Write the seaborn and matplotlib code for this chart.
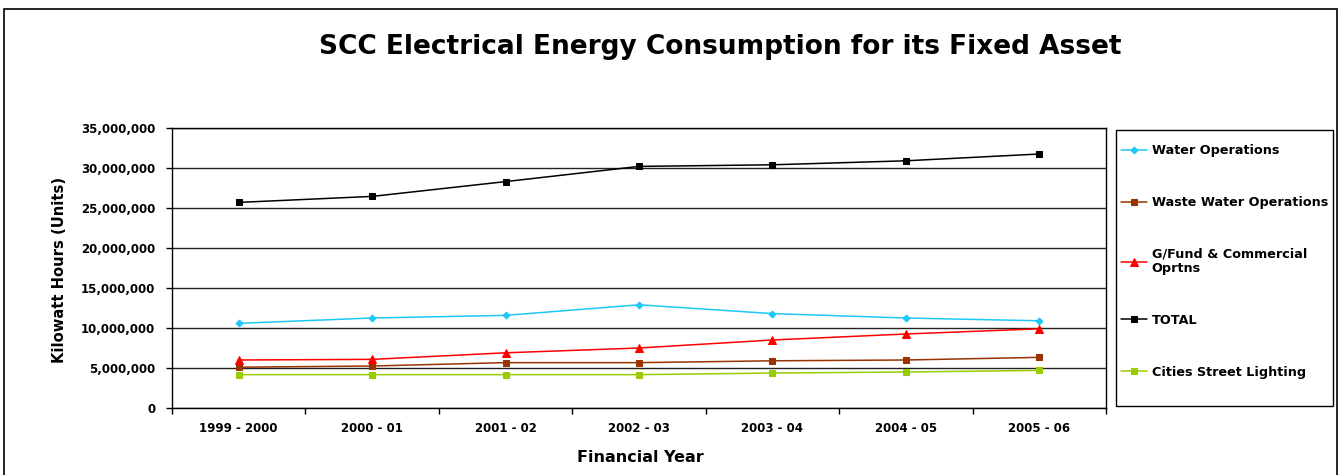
import matplotlib
matplotlib.use("Agg")
import matplotlib.pyplot as plt
import seaborn as sns
import numpy as np
import pandas as pd
from matplotlib.ticker import FuncFormatter, FixedLocator
from matplotlib.patches import Rectangle

# ---- data ----
years = ["1999 - 2000", "2000 - 01", "2001 - 02", "2002 - 03", "2003 - 04", "2004 - 05", "2005 - 06"]
water_ops = [10580000, 11250000, 11580000, 12900000, 11800000, 11250000, 10900000]
waste_water_ops = [5100000, 5250000, 5670000, 5670000, 5900000, 6000000, 6330000]
gfund_commercial = [6000000, 6080000, 6900000, 7500000, 8500000, 9250000, 9900000]
total = [25700000, 26450000, 28300000, 30200000, 30400000, 30900000, 31750000]
street_lighting = [4170000, 4170000, 4170000, 4170000, 4370000, 4500000, 4700000]

series_names = ["Water Operations", "Waste Water Operations",
                "G/Fund & Commercial\nOprtns", "TOTAL", "Cities Street Lighting"]
series_values = [water_ops, waste_water_ops, gfund_commercial, total, street_lighting]
colors = ["#1EC8F5", "#993300", "#FF0000", "#000000", "#99CC00"]
markers = ["D", "s", "^", "s", "s"]
msizes = [3.5, 4.5, 5.5, 4.5, 4.5]

sns.set_theme(style="white")
plt.rcParams["font.family"] = ["DejaVu Sans"]
plt.rcParams["text.color"] = "black"

fig = plt.figure(figsize=(13.43, 4.75), dpi=100)
W, H = 1343, 475
ax = fig.add_axes([172 / W, 1 - 408 / H, (1106 - 172) / W, (408 - 128) / H])

idx = np.arange(len(years))
for name, vals, c, m, ms in zip(series_names, series_values, colors, markers, msizes):
    df = pd.DataFrame({"pos": idx, "val": vals})
    sns.lineplot(data=df, x="pos", y="val", ax=ax, color=c, marker=m,
                 markersize=ms, markeredgecolor=c, markerfacecolor=c,
                 linewidth=1.1, label=name, legend=False)

ax.set_xlim(-0.5, len(years) - 0.5)
ax.set_ylim(0, 35000000)
ax.yaxis.set_major_locator(FixedLocator(np.arange(0, 35000001, 5000000)))
ax.yaxis.set_major_formatter(FuncFormatter(lambda v, p: f"{v:,.0f}"))
ax.set_xticks(idx)
ax.set_xticklabels(years)
ax.set_xticks(np.arange(-0.5, len(years), 1.0), minor=True)
ax.tick_params(axis="x", which="major", length=0, pad=10)
ax.tick_params(axis="x", which="minor", length=4, width=1, color="black", direction="out", bottom=True)
ax.tick_params(axis="y", which="major", length=4, width=1, color="black", direction="out", left=True, pad=8)
for lab in ax.get_xticklabels() + ax.get_yticklabels():
    lab.set_fontweight("bold")
    lab.set_fontsize(8.5)
    lab.set_color("black")

ax.grid(axis="y", color="#222222", linewidth=1.0)
ax.grid(axis="x", visible=False)
for s in ax.spines.values():
    s.set_color("black")
    s.set_linewidth(1.0)
    s.set_visible(True)
ax.set_xlabel("")
ax.set_ylabel("")

fig.text(720 / W, 1 - 47 / H, "SCC Electrical Energy Consumption for its Fixed Asset",
         ha="center", va="center", fontsize=19, fontweight="bold", color="black")
fig.text(640 / W, 1 - 458 / H, "Financial Year", ha="center", va="center",
         fontsize=11.5, fontweight="bold", color="black")
fig.text(60 / W, 1 - 270 / H, "Kilowatt Hours (Units)", ha="center", va="center",
         rotation=90, fontsize=10.6, fontweight="bold", color="black")

# legend box drawn as a frame, legend content placed inside
fig.patches.append(Rectangle((1116 / W, 1 - 406 / H), (1333 - 1116) / W, (406 - 130) / H,
                             transform=fig.transFigure, fill=False,
                             edgecolor="black", linewidth=1.0))
handles, labels = ax.get_legend_handles_labels()
leg = ax.legend(handles, labels, loc="upper left",
                bbox_to_anchor=(1121 / W, 1 - 144 / H),
                bbox_transform=fig.transFigure,
                frameon=False,
                prop={"weight": "bold", "size": 9.2}, handlelength=2.0,
                handletextpad=0.4, labelspacing=3.05, borderpad=0, borderaxespad=0)
for t in leg.get_texts():
    t.set_color("black")
    t.set_linespacing(1.1)

# outer chart border
fig.patches.append(Rectangle((4 / W, -0.05), (1337 - 4) / W, 1.05 - 9 / H,
                             transform=fig.transFigure, fill=False,
                             edgecolor="black", linewidth=1.2))

fig.savefig("out.png", dpi=100)
